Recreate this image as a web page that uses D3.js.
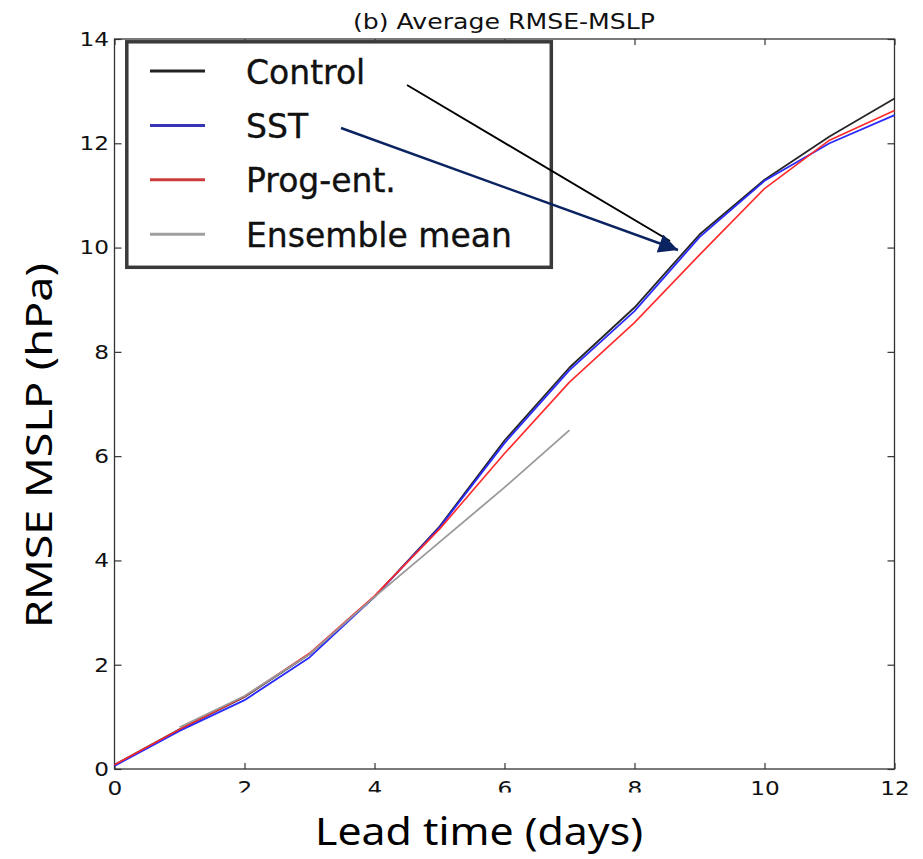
<!DOCTYPE html>
<html>
<head>
<meta charset="utf-8">
<script src="https://cdn.jsdelivr.net/npm/d3@7"></script>
<style>
  html, body { margin: 0; padding: 0; background: #fff; }
  svg { display: block; }
</style>
</head>
<body>
<svg id="chart" width="923" height="859"></svg>
<script>
// ---- data ----
const days = [0, 1, 2, 3, 4, 5, 6, 7, 8, 9, 10, 11, 12];
const control = [0.08, 0.76, 1.38, 2.2, 3.3, 4.65, 6.3, 7.7, 8.85, 10.25, 11.3, 12.13, 12.86];
const sst     = [0.06, 0.73, 1.32, 2.14, 3.3, 4.63, 6.25, 7.65, 8.78, 10.2, 11.28, 12.0, 12.54];
const prog    = [0.08, 0.76, 1.39, 2.22, 3.32, 4.6, 6.05, 7.42, 8.56, 9.86, 11.13, 12.06, 12.63];
const ensDays = [1, 2, 3, 4, 5, 6, 7];
const ensMean = [0.8, 1.4, 2.2, 3.3, 4.35, 5.4, 6.5];
const xTicks = [0, 2, 4, 6, 8, 10, 12];
const yTicks = [0, 2, 4, 6, 8, 10, 12, 14];
const legendNames = ["Control", "SST", "Prog-ent.", "Ensemble mean"];

const title = "(b) Average RMSE-MSLP";
const xLabel = "Lead time (days)";
const yLabel = "RMSE MSLP (hPa)";

// ---- layout ----
const svg = d3.select("#chart");
const m = { left: 114.5, top: 39, right: 894.5, bottom: 769 };
const x = d3.scaleLinear().domain([0, 12]).range([m.left, m.right]);
const y = d3.scaleLinear().domain([0, 14]).range([m.bottom, m.top]);
const stretch = 1.16;
const tickFont = "'DejaVu Sans', sans-serif";

// axes
const gx = svg.append("g").attr("transform", `translate(0,${m.bottom})`)
  .call(d3.axisBottom(x).tickValues(xTicks).tickFormat(d3.format("d")).tickSize(-6).tickPadding(11.5));
const gxTop = svg.append("g").attr("transform", `translate(0,${m.top})`)
  .call(d3.axisTop(x).tickValues(xTicks).tickFormat("").tickSize(-6));
const gy = svg.append("g").attr("transform", `translate(${m.left},0)`)
  .call(d3.axisLeft(y).tickValues(yTicks).tickFormat(d3.format("d")).tickSize(-7).tickPadding(5.5));
const gyR = svg.append("g").attr("transform", `translate(${m.right},0)`)
  .call(d3.axisRight(y).tickValues(yTicks).tickFormat("").tickSize(-7));

[gx, gxTop, gy, gyR].forEach(g => {
  g.select(".domain").remove();
  g.selectAll(".tick line").attr("stroke", "#333").attr("stroke-width", 1.2);
  g.selectAll("text").attr("font-family", tickFont).attr("font-size", 20).attr("fill", "#111");
});
gx.selectAll("text").attr("transform", `scale(${stretch},1)`);
gy.selectAll("text").attr("x", -5.5 / stretch).attr("transform", `scale(${stretch},1)`);

// frame
svg.append("rect")
  .attr("x", m.left).attr("y", m.top)
  .attr("width", m.right - m.left).attr("height", m.bottom - m.top)
  .attr("fill", "none").attr("stroke", "#333").attr("stroke-width", 1.3);

// series
const line = d3.line().x(d => x(d[0])).y(d => y(d[1]));
const series = [
  { vals: control, xs: days, color: "#262626", w: 1.8 },
  { vals: sst, xs: days, color: "#2a2aff", w: 1.8 },
  { vals: prog, xs: days, color: "#ff2a2a", w: 1.6 },
  { vals: ensMean, xs: ensDays, color: "#999999", w: 1.8 }
];
series.forEach(s => {
  svg.append("path")
    .datum(s.xs.map((d, i) => [d, s.vals[i]]))
    .attr("d", line)
    .attr("fill", "none")
    .attr("stroke", s.color)
    .attr("stroke-width", s.w)
    .attr("stroke-linejoin", "round");
});

// title
svg.append("text")
  .attr("x", 504).attr("y", 28.5)
  .attr("text-anchor", "middle")
  .attr("font-family", tickFont).attr("font-size", 21.5)
  .attr("textLength", 302).attr("lengthAdjust", "spacingAndGlyphs")
  .attr("fill", "#111")
  .text(title);

// white patch behind the x label (as in reference)
svg.append("rect").attr("x", 150).attr("y", 792.5).attr("width", 570).attr("height", 67).attr("fill", "#fff");

// axis labels
svg.append("text")
  .attr("x", 479).attr("y", 845)
  .attr("text-anchor", "middle")
  .attr("font-family", "'Noto Sans', sans-serif").attr("font-size", 39)
  .attr("textLength", 328).attr("lengthAdjust", "spacingAndGlyphs")
  .attr("fill", "#000")
  .text(xLabel);
svg.append("text")
  .attr("transform", "translate(52,445.5) rotate(-90)")
  .attr("text-anchor", "middle")
  .attr("font-family", "'Noto Sans', sans-serif").attr("font-size", 37)
  .attr("textLength", 365).attr("lengthAdjust", "spacingAndGlyphs")
  .attr("fill", "#000")
  .text(yLabel);

// legend
const lg = svg.append("g");
lg.append("rect")
  .attr("x", 126.8).attr("y", 41.8).attr("width", 424.5).attr("height", 225.5)
  .attr("fill", "#fff").attr("stroke", "#3a3a3a").attr("stroke-width", 3.5);
const legColors = ["#222222", "#3535b5", "#cc3a3a", "#a0a0a0"];
legendNames.forEach((name, i) => {
  const ly = 71 + i * 54.4;
  lg.append("line").attr("x1", 150).attr("x2", 205).attr("y1", ly).attr("y2", ly)
    .attr("stroke", legColors[i]).attr("stroke-width", 3);
  lg.append("text").attr("x", 246).attr("y", ly + 12.5)
    .attr("font-family", tickFont).attr("font-size", 33).attr("fill", "#111")
    .attr("stroke", "#111").attr("stroke-width", 0.35)
    .text(name);
});

// annotation arrows
const defs = svg.append("defs");
defs.append("marker")
  .attr("id", "ah").attr("viewBox", "0 0 10 10")
  .attr("refX", 10).attr("refY", 5)
  .attr("markerWidth", 8.5).attr("markerHeight", 8)
  .attr("markerUnits", "strokeWidth")
  .attr("orient", "auto")
  .append("path").attr("d", "M0,0 L10,5 L0,10 Z").attr("fill", "#0b2461");
svg.append("line").attr("x1", 407).attr("y1", 85).attr("x2", 670).attr("y2", 241)
  .attr("stroke", "#000").attr("stroke-width", 2);
svg.append("line").attr("x1", 341).attr("y1", 128).attr("x2", 678).attr("y2", 250)
  .attr("stroke", "#0b2461").attr("stroke-width", 2.4)
  .attr("marker-end", "url(#ah)");
</script>
</body>
</html>
